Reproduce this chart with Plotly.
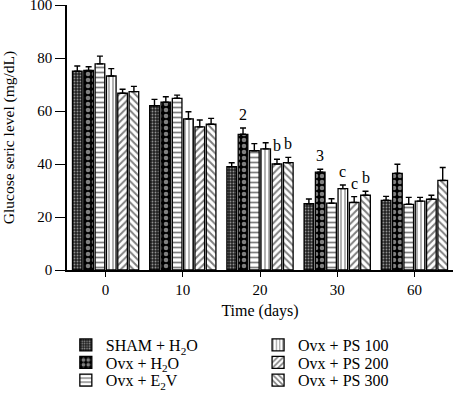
import plotly.graph_objects as go

days = ["0", "10", "20", "30", "60"]
series_names = ["SHAM + H<sub>2</sub>O", "Ovx + H<sub>2</sub>O", "Ovx + E<sub>2</sub>V",
                "Ovx + PS 100", "Ovx + PS 200", "Ovx + PS 300"]
sham_h2o = [75.0, 62.0, 39.0, 25.0, 26.3]
ovx_h2o = [75.3, 63.3, 51.2, 36.9, 36.5]
ovx_e2v = [77.8, 64.8, 45.0, 25.2, 24.8]
ovx_ps100 = [73.2, 57.0, 45.7, 30.7, 26.0]
ovx_ps200 = [66.7, 54.0, 40.0, 25.5, 26.7]
ovx_ps300 = [67.3, 55.0, 40.5, 28.2, 33.8]
sham_h2o_err = [2.0, 2.4, 1.5, 1.8, 1.5]
ovx_h2o_err = [1.4, 2.1, 2.4, 1.1, 3.4]
ovx_e2v_err = [2.9, 1.2, 2.7, 1.7, 2.6]
ovx_ps100_err = [2.8, 2.7, 2.3, 1.4, 1.4]
ovx_ps200_err = [1.5, 2.6, 1.8, 2.2, 1.5]
ovx_ps300_err = [2.0, 2.2, 2.0, 1.5, 4.9]
# significance labels: (series index, day index, text)
sig_labels = [(1, 2, "2"), (4, 2, "b"), (5, 2, "b"),
              (1, 3, "3"), (3, 3, "c"), (4, 3, "c"), (5, 3, "b")]

values = [sham_h2o, ovx_h2o, ovx_e2v, ovx_ps100, ovx_ps200, ovx_ps300]
errors = [sham_h2o_err, ovx_h2o_err, ovx_e2v_err, ovx_ps100_err, ovx_ps200_err, ovx_ps300_err]

patterns = [
    dict(shape=".", size=3, solidity=0.3, fgcolor="white", bgcolor="#222222"),
    dict(shape=".", size=6, solidity=0.45, fgcolor="white", bgcolor="black"),
    dict(shape="-", size=5, solidity=0.35, fgcolor="black", bgcolor="white"),
    dict(shape="|", size=4, solidity=0.3, fgcolor="black", bgcolor="white"),
    dict(shape="/", size=5, solidity=0.4, fgcolor="black", bgcolor="white"),
    dict(shape="\\", size=5, solidity=0.4, fgcolor="black", bgcolor="white"),
]

FONT = "Liberation Serif, Times New Roman, serif"
bargap = 0.12
n = len(series_names)
xpos = list(range(len(days)))

# legend placement: two columns of three rows (paper coords)
legend_cols = [-0.003, 0.495]
legend_rows = [-0.283, -0.349, -0.416]

fig = go.Figure()
legend_layout = {}
for i, (name, v, e, p) in enumerate(zip(series_names, values, errors, patterns)):
    lname = f"legend{i + 2}"
    fig.add_trace(go.Bar(
        x=xpos, y=v, name=name, showlegend=True,
        marker=dict(color="white", line=dict(color="black", width=1.3), pattern=p),
        error_y=dict(type="data", array=e, arrayminus=[0] * len(e), symmetric=False,
                     color="black", thickness=1.4, width=3),
        legend=lname,
    ))
    legend_layout[lname] = dict(x=legend_cols[i // 3], y=legend_rows[i % 3],
                                xanchor="left", yanchor="middle", orientation="v",
                                font=dict(family=FONT, size=16), bgcolor="rgba(0,0,0,0)")

w = 1 - bargap
for si, di, txt in sig_labels:
    xc = xpos[di] - w / 2 + (si + 0.5) * w / n
    fig.add_annotation(x=xc, y=values[si][di] + errors[si][di], text=txt,
                       showarrow=False, yanchor="bottom", yshift=3,
                       font=dict(family=FONT, size=16, color="black"))

fig.update_layout(
    width=455, height=401, showlegend=True,
    margin=dict(l=67, r=2, t=5, b=131, autoexpand=False),
    paper_bgcolor="white", plot_bgcolor="white",
    barmode="group", bargap=bargap, bargroupgap=0.15,
    font=dict(family=FONT, size=13, color="black"),
    **legend_layout,
)
fig.update_xaxes(range=[-0.5, 4.5], tickvals=xpos, ticktext=days, automargin=False,
                 showline=True, linecolor="black", linewidth=1.5,
                 ticks="outside", ticklen=5, tickcolor="black", tickwidth=1.3,
                 showgrid=False, zeroline=False,
                 title=dict(text="Time (days)", font=dict(family=FONT, size=16), standoff=8),
                 tickfont=dict(family=FONT, size=15))
fig.update_yaxes(range=[0, 100], tickvals=[0, 20, 40, 60, 80, 100], automargin=False,
                 ticklabeloverflow="allow",
                 showline=True, linecolor="black", linewidth=1.5,
                 ticks="outside", ticklen=10, tickcolor="black", tickwidth=1.3,
                 showgrid=False, zeroline=False,
                 title=dict(text="Glucose seric level (mg/dL)", font=dict(family=FONT, size=15.5), standoff=18),
                 tickfont=dict(family=FONT, size=15))

fig.write_html("out.html", config={"displayModeBar": False},
               post_script="document.body.style.margin='0';document.body.style.padding='0';")
